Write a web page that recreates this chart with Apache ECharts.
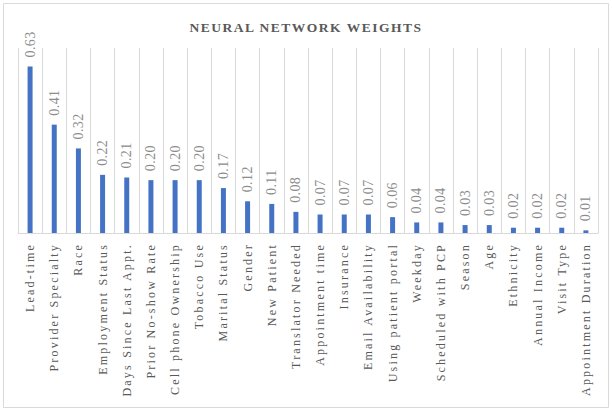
<!DOCTYPE html>
<html>
<head>
<meta charset="utf-8">
<script src="https://cdn.jsdelivr.net/npm/echarts@6/dist/echarts.min.js"></script>
<style>
  html, body { margin: 0; padding: 0; background: #fff; }
  #main { width: 612px; height: 411px; }
  /* Excel-like spaced lettering */
  #main text { font-family: 'Liberation Serif', 'Times New Roman', serif !important; }
  #main text[style*="12px"] { letter-spacing: 2.2px; }
  #main text[style*="14px"] { letter-spacing: 0.4px; }
  #main text[style*="bold"] { letter-spacing: 1.5px; }
</style>
</head>
<body>
<div id="main"></div>
<script>
// features and their weights
var features = ['Lead-time', 'Provider Specialty', 'Race', 'Employment Status',
  'Days Since Last Appt.', 'Prior No-show Rate', 'Cell phone Ownership', 'Tobacco Use',
  'Marital Status', 'Gender', 'New Patient', 'Translator Needed', 'Appointment time',
  'Insurance', 'Email Availability', 'Using patient portal', 'Weekday',
  'Scheduled with PCP', 'Season', 'Age', 'Ethnicity', 'Annual Income', 'Visit Type',
  'Appointment Duration'];
var weights = [0.63, 0.41, 0.32, 0.22, 0.21, 0.20, 0.20, 0.20, 0.17, 0.12, 0.11, 0.08,
  0.07, 0.07, 0.07, 0.06, 0.04, 0.04, 0.03, 0.03, 0.02, 0.02, 0.02, 0.01];

var serif = "'Liberation Serif', 'Times New Roman', serif";

var chart = echarts.init(document.getElementById('main'), null, { renderer: 'svg' });

var option = {
  backgroundColor: '#ffffff',
  animation: false,
  title: {
    text: 'NEURAL NETWORK WEIGHTS',
    left: 'center',
    top: 15,
    textStyle: {
      fontFamily: serif,
      fontWeight: 'bold',
      fontSize: 13.5,
      color: '#595959'
    }
  },
  graphic: [{
    type: 'rect',
    shape: { x: 3.5, y: 3.5, width: 605, height: 404 },
    style: { fill: 'none', stroke: '#d9d9d9', lineWidth: 1 },
    silent: true
  }],
  grid: { left: 18, right: 14, top: 48, bottom: 178 },
  xAxis: {
    type: 'category',
    data: features,
    axisLine: { lineStyle: { color: '#d9d9d9' } },
    axisTick: { show: false },
    splitLine: { show: true, interval: 0, lineStyle: { color: '#d9d9d9' } },
    axisLabel: {
      interval: 0,
      rotate: 90,
      margin: 10,
      fontFamily: serif,
      fontSize: 12,
      color: '#595959'
    }
  },
  yAxis: {
    type: 'value',
    min: 0,
    max: 0.7,
    show: false,
    splitLine: { show: false }
  },
  series: [{
    type: 'bar',
    data: weights,
    barWidth: 5,
    itemStyle: { color: '#4472C4' },
    label: {
      show: true,
      position: 'top',
      distance: 9,
      rotate: 90,
      align: 'left',
      verticalAlign: 'middle',
      fontFamily: serif,
      fontSize: 14,
      color: '#8c8c8c',
      formatter: function (p) { return p.value.toFixed(2); }
    }
  }]
};

chart.setOption(option);
</script>
</body>
</html>
